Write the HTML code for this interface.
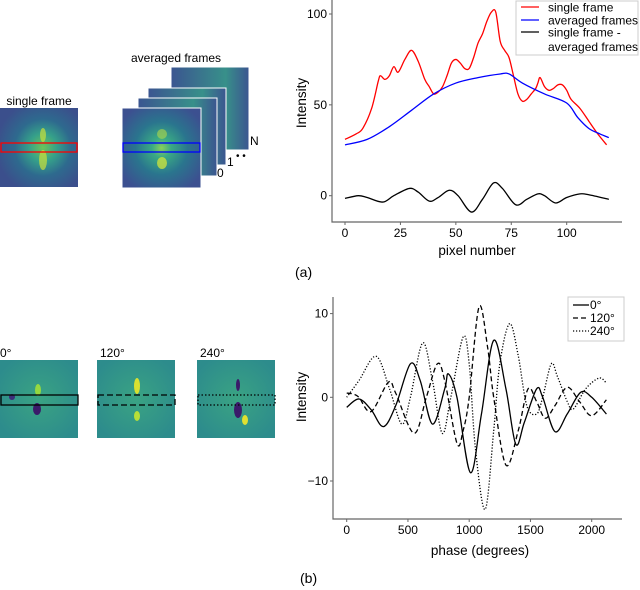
<!DOCTYPE html>
<html><head><meta charset="utf-8"><style>
body{margin:0;background:#fff;}
svg{display:block;font-family:"Liberation Sans",Arial,sans-serif;}
</style></head><body>
<svg id="fig" width="640" height="590" viewBox="0 0 640 590" xmlns="http://www.w3.org/2000/svg">
<defs>
<radialGradient id="gSingle" cx="0.55" cy="0.5" r="0.6">
<stop offset="0" stop-color="#6cc45a"/><stop offset="0.3" stop-color="#35a08a"/><stop offset="0.6" stop-color="#2e6a8e"/><stop offset="1" stop-color="#3b4f8c"/></radialGradient>
<radialGradient id="gAvg" cx="0.5" cy="0.5" r="0.6">
<stop offset="0" stop-color="#8ad05a"/><stop offset="0.2" stop-color="#3aaa84"/><stop offset="0.55" stop-color="#2a758e"/><stop offset="1" stop-color="#3c5090"/></radialGradient>
<linearGradient id="gBack" x1="0" x2="1"><stop offset="0" stop-color="#3b5590"/><stop offset="0.7" stop-color="#38908a"/><stop offset="1" stop-color="#3b5590"/></linearGradient>
<radialGradient id="gPh" cx="0.5" cy="0.5" r="0.6"><stop offset="0" stop-color="#3aa383"/><stop offset="1" stop-color="#2d8c8c"/></radialGradient>
</defs>
<g>
<text x="39" y="105" font-size="12" text-anchor="middle">single frame</text>
<rect x="0" y="108" width="78" height="79" fill="url(#gSingle)"/>
<ellipse cx="43" cy="160" rx="4" ry="10" fill="#c9e03a" opacity="0.7"/>
<ellipse cx="43" cy="135" rx="3" ry="7" fill="#c9e03a" opacity="0.7"/>
<rect x="1" y="143" width="76" height="9" fill="none" stroke="#f00" stroke-width="1.3"/>
</g>
<g>
<text x="176" y="62" font-size="12" text-anchor="middle">averaged frames</text>
<rect x="171" y="67" width="78" height="83" fill="url(#gBack)" stroke="#fff" stroke-width="1"/>
<rect x="148" y="88" width="78" height="77" fill="url(#gBack)" stroke="#fff" stroke-width="1"/>
<rect x="138" y="98" width="79" height="78" fill="url(#gBack)" stroke="#fff" stroke-width="1"/>
<rect x="122" y="108" width="79" height="80" fill="url(#gAvg)" stroke="#fff" stroke-width="1"/>
<ellipse cx="162" cy="163" rx="5" ry="6" fill="#c8e040" opacity="0.8"/>
<ellipse cx="162" cy="134" rx="5" ry="5" fill="#b0d848" opacity="0.6"/>
<rect x="123" y="143" width="77" height="9" fill="none" stroke="#00f" stroke-width="1.3"/>
<text x="250" y="145" font-size="12">N</text>
<text x="227" y="166" font-size="12">1</text>
<text x="236" y="159" font-size="10">• •</text>
<text x="217" y="177" font-size="12">0</text>
</g>
<g>
<text x="0" y="357" font-size="12">0°</text>
<rect x="0" y="360" width="78" height="78" fill="url(#gPh)"/>
<ellipse cx="38" cy="390" rx="3" ry="6" fill="#95d840"/><ellipse cx="37" cy="409" rx="4" ry="6" fill="#3a1a6a"/><ellipse cx="12" cy="397" rx="3" ry="3" fill="#3c2d7a"/>
<rect x="1" y="395" width="77" height="10" fill="none" stroke="#000" stroke-width="1.3"/>
<text x="100" y="357" font-size="12">120°</text>
<rect x="97" y="360" width="78" height="78" fill="url(#gPh)"/>
<ellipse cx="137" cy="386" rx="3" ry="8" fill="#d8e030"/><ellipse cx="137" cy="416" rx="3" ry="5" fill="#b8de38"/>
<rect x="98" y="395" width="77" height="10" fill="none" stroke="#000" stroke-width="1.3" stroke-dasharray="6,3"/>
<text x="200" y="357" font-size="12">240°</text>
<rect x="197" y="360" width="78" height="78" fill="url(#gPh)"/>
<ellipse cx="238" cy="410" rx="4" ry="8" fill="#3a1a6a"/><ellipse cx="238" cy="385" rx="2" ry="6" fill="#3a1a6a"/><ellipse cx="245" cy="420" rx="3" ry="5" fill="#e0e030"/>
<rect x="198" y="395" width="77" height="10" fill="none" stroke="#000" stroke-width="1.3" stroke-dasharray="1.5,2"/>
</g>
<text x="295" y="277" font-size="14">(a)</text>
<text x="300" y="583" font-size="14">(b)</text>
<g id="chartA"></g>
<g id="chartB"></g>
</svg>
<script>
const NS="http://www.w3.org/2000/svg";
const pixA=[0,5,8,12,15,16,18,20,22,24,27,30,33,36,38,40,42,44,46,48,50,52,54,56,58,60,62,64,66,68,70,72,74,76,78,80,82,84,86,87,88,90,92,94,96,98,100,102,106,110,114,118];
const singleFrame=[31,34,37,48,63,66,64,66,71,68,75,80,74,64,60,56,57,60,66,73,75,73,70,70,76,84,89,96,101,101,85,80,76,66,56,52,53,56,59,62,65,60,58,59,61,61,58,53,48,41,34,28];
const pixB=[0,10,20,30,40,50,60,70,74,80,90,100,105,110,115,119];
const averagedFrames=[28,31,38,47,56,62,65,67,67,62,56,51,43,37,34,32];
const pixC=[0,6,10,17,22,29,33,38,42,47,51,57,62,67,71,77,82,87,90,95,100,106,110,119];
const difference=[-1.5,0,-1,-3.5,0,4,2,-3,-1,3,0,-9,-2,7,4,-5,-2,1,0,-4,-1,1,0.5,-2];
const ticksAx=[0,25,50,75,100];
const ticksAy=[0,50,100];
const ph0=[0,100,200,300,400,520,600,700,800,830,900,1010,1100,1200,1300,1380,1450,1550,1600,1700,1800,1910,2000,2120];
const s0=[-1.2,-0.2,-1.5,-3.5,-1,4,2,-3.2,1,2.8,0,-9,-2,6.8,1,-5.6,-3,1,0,-4.1,-2,0.6,0,-2];
const ph120=[0,50,100,200,340,400,550,650,740,800,900,950,1000,1080,1150,1200,1300,1400,1480,1550,1620,1700,1800,1900,2000,2120];
const s120=[0.5,0.4,0,-1.7,1.8,0.5,-4.3,0,4,2,-5.5,-4,0,10.8,6,0,-8.1,-4,1,-0.5,-2.5,-1,1.2,-0.5,-2.2,-0.3];
const ph240=[0,100,240,350,450,520,620,700,780,850,950,1000,1050,1130,1200,1250,1330,1400,1470,1550,1600,1670,1720,1800,1850,1950,2060,2120];
const s240=[0,2,4.9,1,-3.2,0,6.5,2,-4.3,0,7.2,4,-6,-13.4,-4,4,8.8,5,-1,-2,0,4,2.5,-0.5,-1.4,1,2.3,1.7];
const ticksBx=[0,500,1000,1500,2000];
const ticksBy=[-10,0,10];

function mk(parent,tag,attrs){const e=document.createElementNS(NS,tag);for(const k in attrs)e.setAttribute(k,attrs[k]);parent.appendChild(e);return e;}
function smooth(pts){let d="M"+pts[0][0]+","+pts[0][1];for(let i=0;i<pts.length-1;i++){const p0=pts[i-1]||pts[i],p1=pts[i],p2=pts[i+1],p3=pts[i+2]||p2;
const c1x=p1[0]+(p2[0]-p0[0])/6,c1y=p1[1]+(p2[1]-p0[1])/6,c2x=p2[0]-(p3[0]-p1[0])/6,c2y=p2[1]-(p3[1]-p1[1])/6;
d+=` C${c1x.toFixed(2)},${c1y.toFixed(2)} ${c2x.toFixed(2)},${c2y.toFixed(2)} ${p2[0].toFixed(2)},${p2[1].toFixed(2)}`;}return d;}
function axes(g,o){
 const ax=mk(g,"path",{d:`M${o.left},${o.top} V${o.bottom} H${o.right}`,fill:"none",stroke:"#666","stroke-width":1.2});
 
 
 o.xt.forEach(v=>{const x=o.sx(v);mk(g,"line",{x1:x,x2:x,y1:o.bottom,y2:o.bottom+3,stroke:"#666"});
  const t=mk(g,"text",{x:x,y:o.bottom+15,"font-size":12,"text-anchor":"middle"});t.textContent=v;
  
  });
 o.yt.forEach(v=>{const y=o.sy(v);mk(g,"line",{x1:o.left-3,x2:o.left,y1:y,y2:y,stroke:"#666"});
  const t=mk(g,"text",{x:o.left-5,y:y+4,"font-size":12,"text-anchor":"end"});t.textContent=v<0?"\u2212"+(-v):v;
  
  });
 const xl=mk(g,"text",{x:o.xlx,y:o.xly,"font-size":13.5,"text-anchor":"middle"});xl.textContent=o.xl;
 
 
 const yl=mk(g,"text",{x:0,y:0,"font-size":13.5,"text-anchor":"middle",transform:`translate(${o.ylx},${o.yly}) rotate(-90)`});yl.textContent="Intensity";
 
 
}
function line(g,xs,ys,sx,sy,attrs,name){const p=mk(g,"path",Object.assign({d:smooth(xs.map((x,i)=>[sx(x),sy(ys[i])])),fill:"none"},attrs));
 
 }
const gA=document.getElementById("chartA");
const sxA=v=>345+v*2.217, syA=v=>195.7-v*1.817;
axes(gA,{left:332,top:0,bottom:222,right:622,sx:sxA,sy:syA,xt:ticksAx,yt:ticksAy,xl:"pixel number",xlx:477,xly:255,ylx:306,yly:103});
line(gA,pixA,singleFrame,sxA,syA,{stroke:"#f00","stroke-width":1.3},"single-frame-line");
line(gA,pixB,averagedFrames,sxA,syA,{stroke:"#00f","stroke-width":1.3},"averaged-frames-line");
line(gA,pixC,difference,sxA,syA,{stroke:"#000","stroke-width":1.3},"difference-line");
const legA=mk(gA,"g",{});


mk(legA,"rect",{x:516,y:1,width:122,height:54,fill:"#fff",stroke:"#ccc"});
[["#f00","single frame",8],["#00f","averaged frames",21],["#000","single frame -",33]].forEach(r=>{
 mk(legA,"line",{x1:521,x2:539,y1:r[2]-1,y2:r[2]-1,stroke:r[0],"stroke-width":1.3});
 const t=mk(legA,"text",{x:548,y:r[2]+3.5,"font-size":12});t.textContent=r[1];
 
 });
const t4=mk(legA,"text",{x:548,y:51,"font-size":12});t4.textContent="averaged frames";
const gB=document.getElementById("chartB");
const sxB=v=>346.7+v*0.1225, syB=v=>397.3-v*8.37;
axes(gB,{left:333,top:297,bottom:519,right:622,sx:sxB,sy:syB,xt:ticksBx,yt:ticksBy,xl:"phase (degrees)",xlx:480,xly:555,ylx:306,yly:397});
line(gB,ph0,s0,sxB,syB,{stroke:"#000","stroke-width":1.3},"phase-0-line");
line(gB,ph120,s120,sxB,syB,{stroke:"#000","stroke-width":1.3,"stroke-dasharray":"5,3"},"phase-120-line");
line(gB,ph240,s240,sxB,syB,{stroke:"#000","stroke-width":1.3,"stroke-dasharray":"1.2,1.8"},"phase-240-line");
const legB=mk(gB,"g",{});


mk(legB,"rect",{x:568,y:297,width:56,height:44,fill:"#fff",stroke:"#ccc"});
[["","0°",305],["5,3","120°",318],["1.2,1.8","240°",331]].forEach(r=>{
 const l=mk(legB,"line",{x1:573,x2:589,y1:r[2],y2:r[2],stroke:"#000","stroke-width":1.3});if(r[0])l.setAttribute("stroke-dasharray",r[0]);
 const t=mk(legB,"text",{x:590,y:r[2]+4,"font-size":12});t.textContent=r[1];
 
 });
</script>
</body></html>
